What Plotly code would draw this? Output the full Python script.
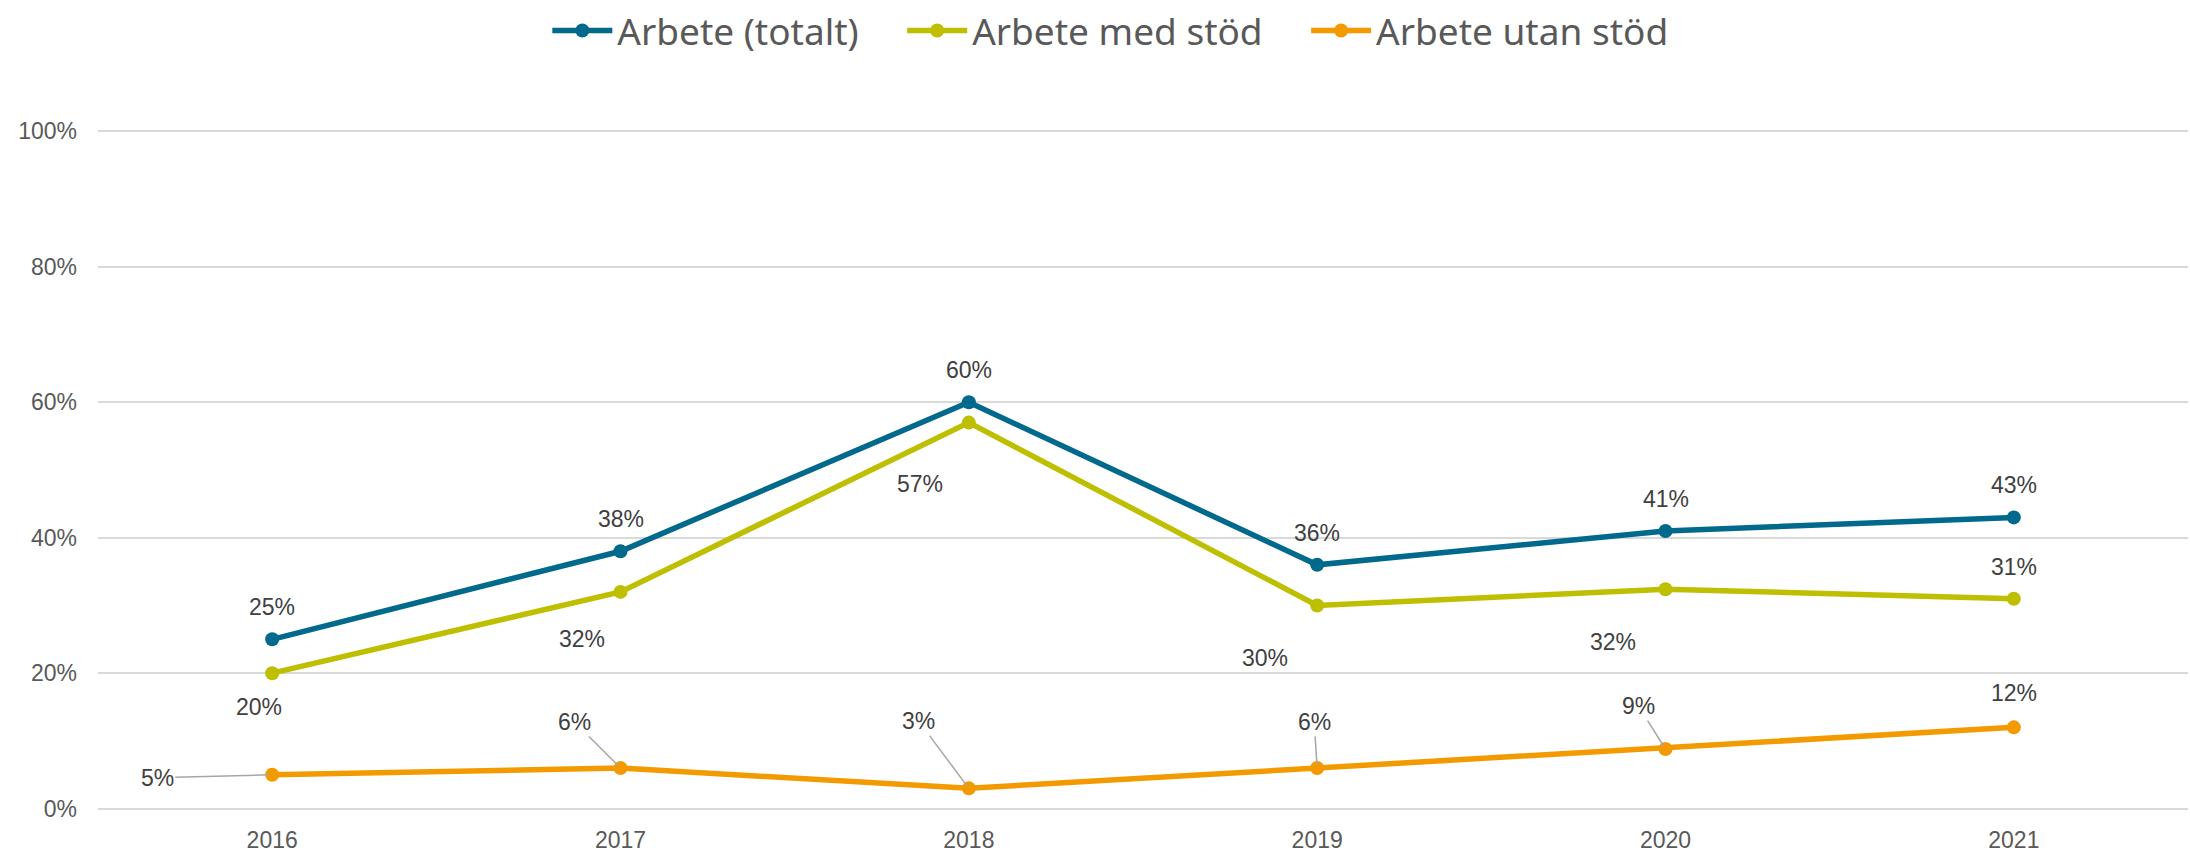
import plotly.graph_objects as go

years = ["2016", "2017", "2018", "2019", "2020", "2021"]
totalt = [0.25, 0.38, 0.60, 0.36, 0.41, 0.43]
med_stod = [0.20, 0.32, 0.57, 0.30, 0.324, 0.31]
utan_stod = [0.05, 0.06, 0.03, 0.06, 0.088, 0.12]

names = ["Arbete (totalt)", "Arbete med stöd", "Arbete utan stöd"]
colors = ["#00698C", "#BDBF00", "#F39A00"]
series = [totalt, med_stod, utan_stod]

# label offsets (px): dx, dy (dy positive = down), leader line flag
offsets = [
    [(0, -32, False)] * 6,
    [(-13, 34, False), (-39, 47, False), (-49, 61, False), (-52, 53, False), (-53, 53, False), (0, -32, False)],
    [(-115, 3, True), (-46, -46, True), (-50, -67, True), (-3, -46, True), (-27, -43, True), (0, -34, False)],
]

pad = "\u00a0" * 4
fig = go.Figure()
for i, (name, col, vals) in enumerate(zip(names, colors, series)):
    fig.add_trace(go.Scatter(
        x=years, y=vals, name=name + (pad if i < 2 else ""), mode="lines+markers",
        line=dict(color=col, width=5.5),
        marker=dict(color=col, size=14),
    ))

lab_font = dict(family="Liberation Sans, Arial", size=23, color="#404040")
annotations = []
for vals, offs in zip(series, offsets):
    for idx, (v, (dx, dy, lead)) in enumerate(zip(vals, offs)):
        txt = f"{round(v * 100):.0f}%"
        if lead:
            annotations.append(dict(
                x=idx, y=v, xref="x", yref="y", text=txt, showarrow=True,
                arrowhead=0, arrowwidth=1.5, arrowcolor="#A6A6A6",
                ax=dx, ay=dy, axref="pixel", ayref="pixel", standoff=3,
                font=lab_font,
            ))
        else:
            annotations.append(dict(
                x=idx, y=v, xref="x", yref="y", text=txt, showarrow=False,
                xshift=dx, yshift=-dy, font=lab_font,
            ))

fig.update_layout(
    width=2190, height=855,
    margin=dict(l=98, r=2, t=130, b=41),
    paper_bgcolor="white", plot_bgcolor="white",
    font=dict(family="Liberation Sans, Arial", size=23, color="#595959"),
    showlegend=True,
    legend=dict(
        orientation="h", xref="container", yref="container",
        x=0.507, xanchor="center", y=1, yanchor="top",
        font=dict(family="Noto Sans", size=37, color="#595959"),
        itemwidth=60,
        bgcolor="rgba(0,0,0,0)",
    ),
    annotations=annotations,
    hovermode=False,
)
fig.update_xaxes(
    type="category", range=[-0.5, 5.5], showgrid=False, showline=False,
    zeroline=False, ticks="", ticklabelstandoff=14,
    tickfont=dict(family="Liberation Sans, Arial", size=23, color="#595959"),
)
fig.update_yaxes(
    range=[-0.002, 1.002], tickvals=[0, 0.2, 0.4, 0.6, 0.8, 1.0], tickformat=".0%", showgrid=True,
    gridcolor="#D9D9D9", gridwidth=1.5, zeroline=False, showline=False,
    ticks="", ticklabelstandoff=20,
    tickfont=dict(family="Liberation Sans, Arial", size=23, color="#595959"),
)

fig.write_html("out.html")
